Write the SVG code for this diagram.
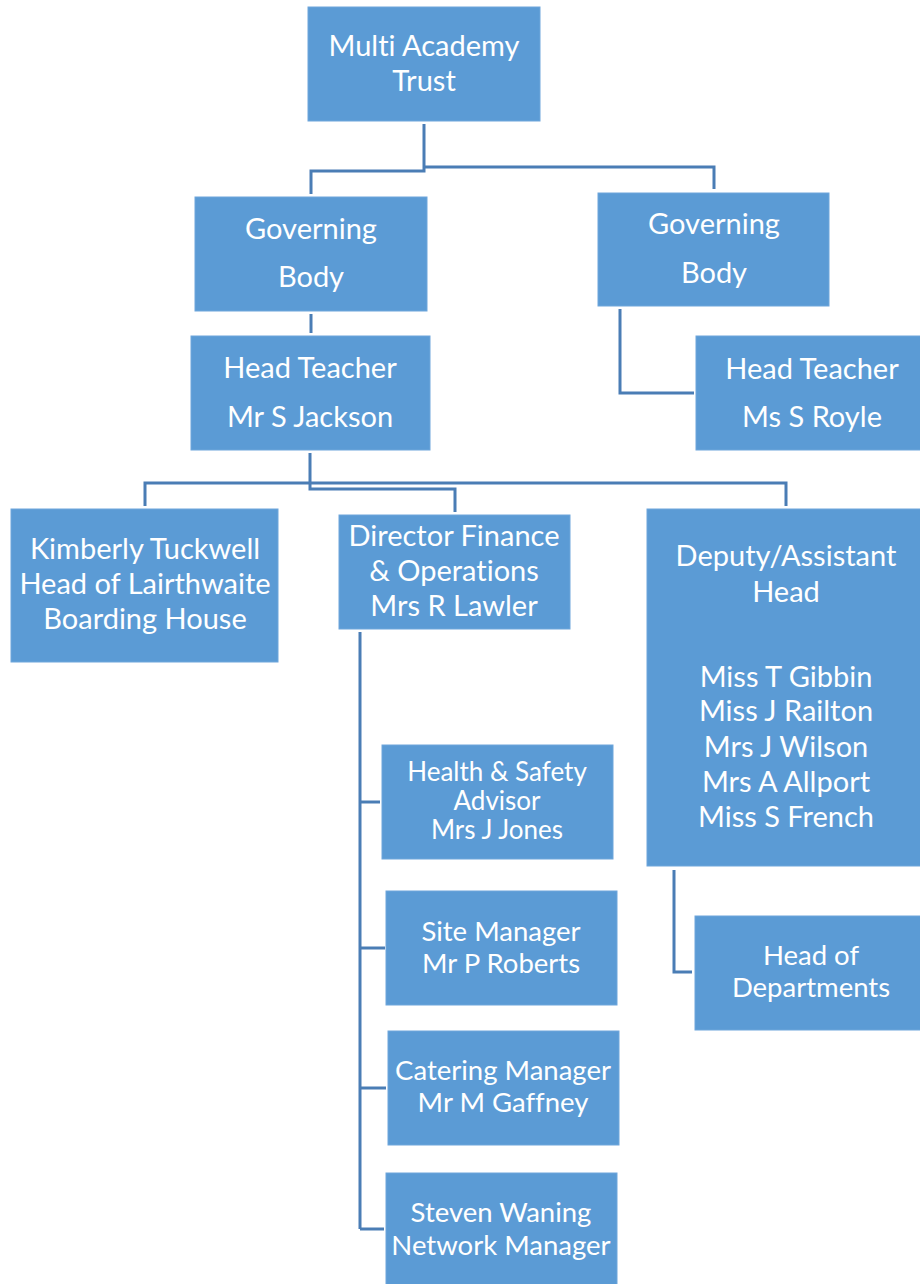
<svg xmlns="http://www.w3.org/2000/svg" width="920" height="1284" viewBox="0 0 920 1284">
<style>
.box{fill:#5B9BD5;stroke:#6FA6DB;stroke-width:1}
.t{font-family:Lato,"Liberation Sans",sans-serif;fill:#FFFFFF;text-anchor:middle;font-size:29px;font-variant-ligatures:none;font-feature-settings:"liga" 0,"clig" 0}
.s{font-size:26px}
.m{font-size:27.5px}
.c{fill:none;stroke:#4A7DB5;stroke-width:3}
</style>
<rect width="920" height="1284" fill="#FFFFFF"/>
<g id="connectors">
<polyline class="c" points="424,124 424,171 311,171 311,194"/>
<polyline class="c" points="424,167 714,167 714,189"/>
<line class="c" x1="311" y1="314" x2="311" y2="333"/>
<polyline class="c" points="620,309 620,393 694,393"/>
<polyline class="c" points="310,453 310,489 455,489 455,512"/>
<polyline class="c" points="145,506 145,483 786,483 786,506"/>
<line class="c" x1="360" y1="632" x2="360" y2="1229"/>
<line class="c" x1="360" y1="802" x2="380" y2="802"/>
<line class="c" x1="360" y1="948" x2="385" y2="948"/>
<line class="c" x1="360" y1="1088" x2="386" y2="1088"/>
<line class="c" x1="360" y1="1229" x2="384" y2="1229"/>
<polyline class="c" points="674,870 674,972 692,972"/>
</g>
<g id="trust">
<rect class="box" x="308" y="7" width="232" height="114"/>
<text class="t" x="424" y="56">Multi Academy</text>
<text class="t" x="424" y="91">Trust</text>
</g>
<g id="gov-left">
<rect class="box" x="195" y="197" width="232" height="114"/>
<text class="t" x="311" y="239">Governing</text>
<text class="t" x="311" y="287">Body</text>
</g>
<g id="gov-right">
<rect class="box" x="598" y="193" width="231" height="113"/>
<text class="t" x="714" y="234">Governing</text>
<text class="t" x="714" y="283">Body</text>
</g>
<g id="head-jackson">
<rect class="box" x="191" y="336" width="239" height="114"/>
<text class="t" x="310" y="378">Head Teacher</text>
<text class="t" x="310" y="427">Mr S Jackson</text>
</g>
<g id="head-royle">
<rect class="box" x="696" y="336" width="226" height="114"/>
<text class="t" x="812" y="379">Head Teacher</text>
<text class="t" x="812" y="427">Ms S Royle</text>
</g>
<g id="kimberly">
<rect class="box" x="11" y="509" width="267" height="153"/>
<text class="t" x="145" y="559">Kimberly Tuckwell</text>
<text class="t" x="145" y="594">Head of Lairthwaite</text>
<text class="t" x="145" y="629">Boarding House</text>
</g>
<g id="director">
<rect class="box" x="339" y="515" width="231" height="114"/>
<text class="t" x="454" y="546">Director Finance</text>
<text class="t" x="454" y="581">&amp; Operations</text>
<text class="t" x="454" y="616">Mrs R Lawler</text>
</g>
<g id="deputy">
<rect class="box" x="647" y="509" width="275" height="357"/>
<text class="t" x="786" y="566">Deputy/Assistant</text>
<text class="t" x="786" y="602">Head</text>
<text class="t" x="786" y="687">Miss T Gibbin</text>
<text class="t" x="786" y="721">Miss J Railton</text>
<text class="t" x="786" y="757">Mrs J Wilson</text>
<text class="t" x="786" y="792">Mrs A Allport</text>
<text class="t" x="786" y="827">Miss S French</text>
</g>
<g id="health">
<rect class="box" x="382" y="745" width="231" height="114"/>
<text class="t s" x="497" y="781">Health &amp; Safety</text>
<text class="t s" x="497" y="810">Advisor</text>
<text class="t s" x="497" y="839">Mrs J Jones</text>
</g>
<g id="site">
<rect class="box" x="386" y="891" width="231" height="114"/>
<text class="t m" x="501" y="941">Site Manager</text>
<text class="t m" x="501" y="973">Mr P Roberts</text>
</g>
<g id="catering">
<rect class="box" x="388" y="1031" width="231" height="114"/>
<text class="t m" x="503" y="1080">Catering Manager</text>
<text class="t m" x="503" y="1112">Mr M Gaffney</text>
</g>
<g id="network">
<rect class="box" x="386" y="1173" width="231" height="113"/>
<text class="t m" x="501" y="1222">Steven Waning</text>
<text class="t m" x="501" y="1255">Network Manager</text>
</g>
<g id="heads-dept">
<rect class="box" x="695" y="916" width="227" height="114"/>
<text class="t m" x="811" y="965">Head of</text>
<text class="t m" x="811" y="997">Departments</text>
</g>
</svg>
